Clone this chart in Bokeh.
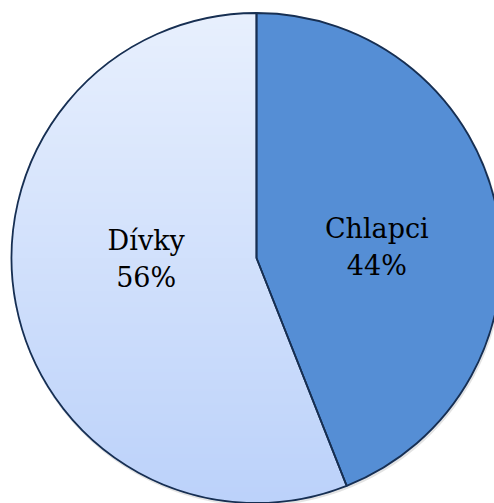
import numpy as np
from bokeh.plotting import figure
from bokeh.models import Range1d, Label
from bokeh.embed import file_html
from bokeh.resources import INLINE

categories = ["Chlapci", "Dívky"]
shares = [44, 56]
pct_labels = ["44%", "56%"]
colors = ["#558ED5", None]
grad_top = (232, 240, 254)
grad_bottom = (188, 210, 250)
outline = "#172F52"

W, H = 494, 503
p = figure(width=W, height=H, output_backend="svg", toolbar_location=None,
           x_range=Range1d(0, W), y_range=Range1d(0, H), min_border=0)
p.axis.visible = False
p.grid.visible = False
p.outline_line_color = None
p.background_fill_color = "white"
p.border_fill_color = "white"

cx, cy, r = 256.0, 503 - 257.5, 245.0

# angles: start at top, go clockwise
fr = np.array(shares, dtype=float) / sum(shares)
ends = np.pi / 2 - 2 * np.pi * np.cumsum(fr)
starts = np.concatenate([[np.pi / 2], ends[:-1]])

# subtle shadow
p.circle(x=[cx + 1], y=[cy - 2], radius=r + 1, fill_color="#d0d0d0", line_color=None, fill_alpha=0.6)

# gradient fill for the second slice (rendered as image inside the circle)
n = 600
xs = np.linspace(cx - r, cx + r, n)
ys = np.linspace(cy - r, cy + r, n)
X, Y = np.meshgrid(xs, ys)
inside = (X - cx) ** 2 + (Y - cy) ** 2 <= (r + 1) ** 2
t = (cy + r - Y) / (2 * r)  # 0 at top, 1 at bottom
img = np.zeros((n, n), dtype=np.uint32)
view = img.view(dtype=np.uint8).reshape((n, n, 4))
for k in range(3):
    view[:, :, k] = (grad_top[k] + (grad_bottom[k] - grad_top[k]) * t).astype(np.uint8)
view[:, :, 3] = np.where(inside, 255, 0)
p.image_rgba(image=[img], x=cx - r, y=cy - r, dw=2 * r, dh=2 * r)

# slices
for i, c in enumerate(categories):
    p.wedge(x=cx, y=cy, radius=r, start_angle=ends[i], end_angle=starts[i],
            fill_color=colors[i] if colors[i] else None,
            fill_alpha=1.0 if colors[i] else 0.0,
            line_color=outline, line_width=1.8)

# labels
mids = (starts + ends) / 2
adj = [(0, -12), (10, 22)]
line_gap = 37
for i, (m, a) in enumerate(zip(mids, adj)):
    x0 = cx + 0.5 * r * np.cos(m) + a[0]
    y0 = cy + 0.5 * r * np.sin(m) + a[1]
    for j, txt in enumerate([categories[i], pct_labels[i]]):
        p.add_layout(Label(x=x0, y=y0 + line_gap / 2 - j * line_gap, text=txt,
                           text_font="DejaVu Serif", text_font_size="27px",
                           text_align="center", text_baseline="middle",
                           text_color="black"))

open("out.html", "w").write(file_html(p, INLINE))
